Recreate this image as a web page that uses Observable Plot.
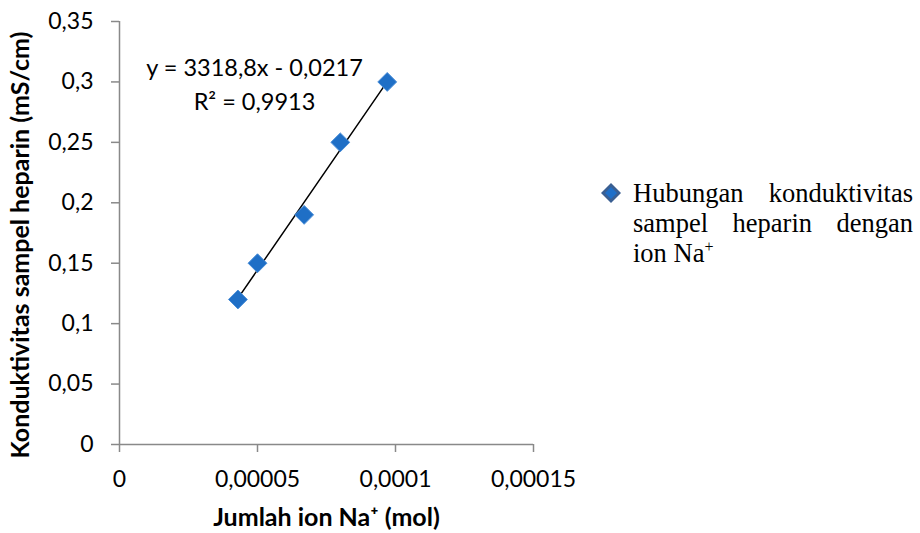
<!DOCTYPE html>
<html>
<head>
<meta charset="utf-8">
<script src="https://cdn.jsdelivr.net/npm/d3@7"></script>
<script src="https://cdn.jsdelivr.net/npm/@observablehq/plot@0.6"></script>
<style>
  html, body { margin: 0; padding: 0; background: #fff; }
  #wrap { position: relative; width: 920px; height: 533px; overflow: hidden; }
  #legend { position: absolute; left: 600px; top: 178px; width: 320px; }
  #legend svg { position: absolute; left: 0px; top: 4px; }
  #legend .txt {
    position: absolute; left: 33px; top: 0; width: 280px;
    font-family: "Liberation Serif", "Times New Roman", serif; font-size: 26.5px;
    line-height: 30px; text-align: justify; color: #000;
  }
  #legend sup { font-size: 16px; vertical-align: 10px; line-height: 0; }
</style>
</head>
<body>
<div id="wrap"></div>
<script>
// Data
const ionNa = [0.0000429, 0.00005, 0.0000669, 0.00008, 0.0000970];      // mol
const konduktivitas = [0.12, 0.15, 0.19, 0.25, 0.30];                    // mS/cm
const xTicks = [0, 0.00005, 0.0001, 0.00015];
const yTicks = [0, 0.05, 0.1, 0.15, 0.2, 0.25, 0.3, 0.35];
const equationText = "y = 3318,8x - 0,0217\nR² = 0,9913";
const xTitle = "Jumlah ion Na⁺ (mol)";
const yTitle = "Konduktivitas sampel heparin (mS/cm)";
const seriesName = "Hubungan konduktivitas sampel heparin dengan ion Na";

const data = ionNa.map((x, i) => ({x, y: konduktivitas[i]}));
const fmt = d => String(+(+d).toPrecision(6)).replace(".", ",");
const axisGray = "#898989";

const chart = Plot.plot({
  width: 920,
  height: 533,
  marginLeft: 119,
  marginRight: 387,
  marginTop: 21,
  marginBottom: 89,
  style: {fontFamily: "Lato, 'Open Sans', sans-serif", fontSize: "23px", color: "#000", background: "transparent"},
  x: {domain: [0, 0.00015]},
  y: {domain: [0, 0.35]},
  marks: [
    Plot.ruleY([0], {stroke: axisGray, strokeWidth: 1.5}),
    Plot.ruleX([0], {stroke: axisGray, strokeWidth: 1.5}),
    Plot.axisX({ticks: xTicks, tickFormat: fmt, tickSize: 8, tickPadding: 18, stroke: axisGray, strokeWidth: 1.5, fill: "#000", label: null}),
    Plot.axisY({ticks: yTicks, tickFormat: fmt, tickSize: 8, tickPadding: 18, stroke: axisGray, strokeWidth: 1.5, fill: "#000", label: null}),
    Plot.linearRegressionY(data, {x: "x", y: "y", ci: 0, stroke: "#000", strokeWidth: 1.5}),
    Plot.dot(data, {x: "x", y: "y", symbol: "diamond2", r: 8.5, fill: "#1f6fc6", stroke: "#4a8ed8", strokeWidth: 1}),
    Plot.text([equationText], {text: d => d, frameAnchor: "top-left", dx: 135, dy: 61, textAnchor: "middle", lineAnchor: "middle", lineHeight: 1.43, fontSize: 23.5, fill: "#000"}),
    Plot.text([xTitle], {text: d => d, frameAnchor: "bottom", dy: 73, textAnchor: "middle", lineAnchor: "middle", fontWeight: "bold", fontSize: 25, fill: "#000"}),
    Plot.text([yTitle], {text: d => d, frameAnchor: "left", rotate: -90, dx: -99, dy: 12, textAnchor: "middle", lineAnchor: "middle", fontWeight: "bold", fontSize: 25, fill: "#000"})
  ]
});

const wrap = document.getElementById("wrap");
wrap.appendChild(chart);

const legend = document.createElement("div");
legend.id = "legend";
legend.innerHTML = `<svg width="22" height="22" viewBox="-11 -11 22 22"><path d="M0,-10L10,0L0,10L-10,0Z" fill="#3a5f92"/><path d="M0,-6L6,0L0,6L-6,0Z" fill="#1f6fc8"/></svg><div class="txt">${seriesName}<sup>+</sup></div>`;
wrap.appendChild(legend);
</script>
</body>
</html>
